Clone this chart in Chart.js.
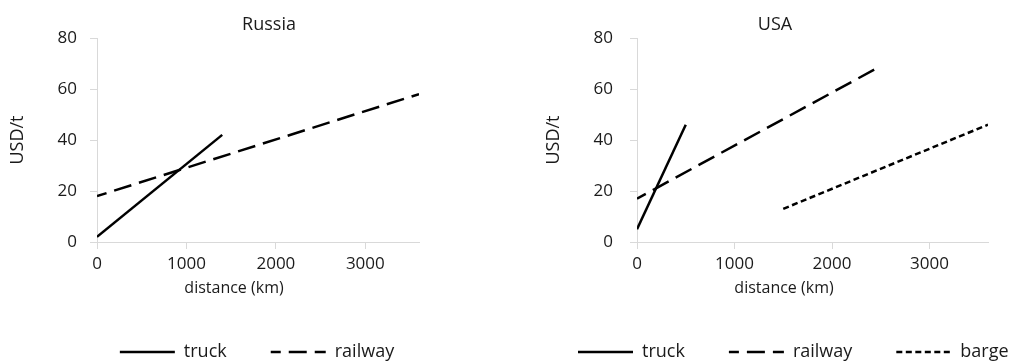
<!DOCTYPE html>
<html><head><meta charset="utf-8">
<script src="https://cdn.jsdelivr.net/npm/chart.js@4.4.1/dist/chart.umd.min.js"></script>
<style>
html,body{margin:0;padding:0;background:#fff;overflow:hidden;width:1014px;height:363px;position:relative;}
#w1{position:absolute;left:0;top:0;width:514px;height:371px;}
#w2{position:absolute;left:534px;top:0;width:566px;height:371px;}
</style></head><body>
<div id="w1"><canvas id="c1"></canvas></div>
<div id="w2"><canvas id="c2"></canvas></div>
<script>
// ---- data ----
const xTickValues = [0, 1000, 2000, 3000];
const yTickValues = [0, 20, 40, 60, 80];
const xMin = 0, xMax = 3600;
const yMin = 0, yMax = 80;
const seriesLabels = ['truck', 'railway', 'barge'];
const chartTitles = ['Russia', 'USA'];
const xAxisTitle = 'distance (km)';
const yAxisTitle = 'USD/t';

const russiaTruckX = [0, 1400];
const russiaTruckY = [2, 42];
const russiaRailX = [0, 3600];
const russiaRailY = [18, 58];

const usaTruckX = [0, 500];
const usaTruckY = [5, 46];
const usaRailX = [0, 2500];
const usaRailY = [17, 69];
const usaBargeX = [1500, 3600];
const usaBargeY = [13, 46];

// ---- styles ----
const FONT = "'Open Sans', sans-serif";
const TXT = '#1a1a1a';
const AXIS = '#d9d9d9';
Chart.defaults.font.family = FONT;
Chart.defaults.color = TXT;

function pts(xs, ys) { return xs.map((x, i) => ({x: x, y: ys[i]})); }

const lineStyles = {
  truck:   {borderDash: [], borderDashOffset: 0},
  railway: {borderDash: [18, 8], borderDashOffset: 8},
  barge:   {borderDash: [6, 3.5], borderDashOffset: 0}
};

function ds(label, xs, ys) {
  return Object.assign({
    label: label,
    data: pts(xs, ys),
    showLine: true,
    borderColor: '#000',
    backgroundColor: '#000',
    borderWidth: 2.5,
    borderCapStyle: 'butt',
    pointRadius: 0,
    pointHoverRadius: 0,
    pointStyle: 'line',
    fill: false,
    tension: 0
  }, lineStyles[label]);
}

function legendLabels(chart) {
  const items = Chart.defaults.plugins.legend.labels.generateLabels(chart);
  items.forEach(it => {
    const d = chart.data.datasets[it.datasetIndex];
    it.lineDash = d.borderDash;
    it.lineDashOffset = d.borderDashOffset;
    it.lineWidth = d.borderWidth;
    it.strokeStyle = d.borderColor;
    it.fillStyle = 'rgba(0,0,0,0)';
    it.pointStyle = 'line';
    it.lineCap = 'butt';
  });
  return items;
}

const placedTexts = {
  id: 'placedTexts',
  afterDraw(chart, args, opts) {
    const ctx = chart.ctx, a = chart.chartArea;
    ctx.save();
    ctx.fillStyle = TXT;
    ctx.textAlign = 'center';
    ctx.textBaseline = 'middle';
    (opts.items || []).forEach(t => {
      ctx.font = t.size + 'px ' + FONT;
      const y = t.ref === 'top' ? a.top + t.dy : a.bottom + t.dy;
      ctx.fillText(t.text, a.left + t.dx, y);
    });
    ctx.restore();
  }
};

const plainLabel = v => String(v);

function makeChart(id, datasets, cfg) {
  return new Chart(document.getElementById(id), {
    type: 'scatter',
    data: {datasets: datasets},
    plugins: [placedTexts],
    options: {
      responsive: true,
      maintainAspectRatio: false,
      animation: false,
      events: [],
      layout: {padding: {top: 38, left: 0, right: 0, bottom: 0}},
      plugins: {
        tooltip: {enabled: false},
        title: {display: false},
        legend: {
          display: true,
          position: 'bottom',
          align: cfg.legendAlign,
          labels: {
            usePointStyle: true,
            pointStyle: 'line',
            pointStyleWidth: 55,
            padding: 44,
            color: TXT,
            font: {size: 18},
            generateLabels: legendLabels
          }
        },
        placedTexts: {items: cfg.texts}
      },
      scales: {
        x: {
          type: 'linear',
          min: xMin, max: xMax,
          afterBuildTicks: s => { s.ticks = xTickValues.map(v => ({value: v})); },
          ticks: {autoSkip: false, maxRotation: 0, font: {size: 17}, color: TXT, padding: 5, callback: plainLabel},
          grid: {drawOnChartArea: false, drawTicks: true, tickLength: 7, color: AXIS, lineWidth: 1},
          border: {color: AXIS, width: 1},
          title: {display: false},
          afterFit: s => { s.height = 57; }
        },
        y: {
          type: 'linear',
          position: 'left',
          min: yMin, max: yMax,
          afterBuildTicks: s => { s.ticks = yTickValues.map(v => ({value: v})); },
          ticks: {font: {size: 17}, color: TXT, padding: cfg.yPad, callback: plainLabel},
          grid: {drawOnChartArea: false, drawTicks: true, tickLength: 7, color: AXIS, lineWidth: 1},
          border: {color: AXIS, width: 1},
          title: {display: true, text: yAxisTitle, font: {size: 18}, color: TXT, padding: {top: cfg.yTitlePad, bottom: 0}},
          afterFit: s => { s.width = cfg.leftGap; }
        },
        yR: {
          type: 'linear',
          position: 'right',
          display: true,
          grid: {display: false},
          border: {display: false},
          ticks: {display: false},
          afterFit: s => { s.width = cfg.rightGap; }
        }
      }
    }
  });
}

makeChart('c1', [
  ds(seriesLabels[0], russiaTruckX, russiaTruckY),
  ds(seriesLabels[1], russiaRailX, russiaRailY)
], {
  yPad: 13, yTitlePad: 7, leftGap: 97, rightGap: 95, legendAlign: 'center',
  texts: [
    {text: chartTitles[0], size: 18, ref: 'top', dx: 172, dy: -13},
    {text: xAxisTitle, size: 16, ref: 'bottom', dx: 137, dy: 46}
  ]
});

makeChart('c2', [
  ds(seriesLabels[0], usaTruckX, usaTruckY),
  ds(seriesLabels[1], usaRailX, usaRailY),
  ds(seriesLabels[2], usaBargeX, usaBargeY)
], {
  yPad: 17, yTitlePad: 9, leftGap: 103, rightGap: 112, legendAlign: 'start',
  texts: [
    {text: chartTitles[1], size: 18, ref: 'top', dx: 138, dy: -13},
    {text: xAxisTitle, size: 16, ref: 'bottom', dx: 147, dy: 46}
  ]
});
</script>
</body></html>
